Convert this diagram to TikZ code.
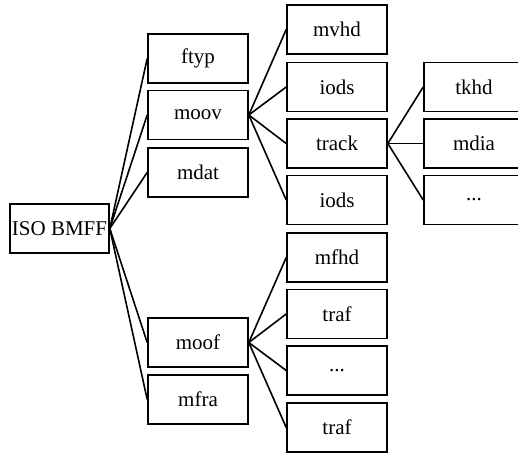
\documentclass[tikz,border=0pt]{standalone}
\usepackage{fontspec}
\setmainfont{Liberation Serif}
\begin{document}
\begin{tikzpicture}[x=1pt,y=-1pt,
  box/.style={draw,line width=1.6pt,minimum width=100pt,minimum height=49pt,inner sep=0pt,anchor=center,font=\fontsize{21}{25}\selectfont},
  link/.style={line width=1.6pt}]
\clip (0,0) rectangle (518,452);
\fill[white] (0,0) rectangle (518,452);
% root
\node[box,minimum width=99pt] (iso) at (59.5,228.5) {ISO BMFF};
% level 1
\node[box] (ftyp) at (198,58.5) {ftyp};
\node[box] (moov) at (198,115) {moov};
\node[box] (mdat) at (198,172.5) {mdat};
\node[box] (moof) at (198,342.5) {moof};
\node[box] (mfra) at (198,399.5) {mfra};
% level 2 (moov)
\node[box] (mvhd) at (337,29.5) {mvhd};
\node[box] (iodsa) at (337,87) {iods};
\node[box] (track) at (337,143.5) {track};
\node[box] (iodsb) at (337,200) {iods};
% level 2 (moof)
\node[box] (mfhd) at (337,257.5) {mfhd};
\node[box] (trafa) at (337,314) {traf};
\node[box] (dotsa) at (337,370.5) {...};
\node[box] (trafb) at (337,427.5) {traf};
% level 3 (track)
\node[box] (tkhd) at (474,87) {tkhd};
\node[box] (mdia) at (474,143.5) {mdia};
\node[box] (dotsb) at (474,200) {...};
% connectors
\foreach \t in {ftyp,moov,mdat,moof,mfra} \draw[link] (iso.east) -- (\t.west);
\foreach \t in {mvhd,iodsa,track,iodsb} \draw[link] (moov.east) -- (\t.west);
\foreach \t in {mfhd,trafa,dotsa,trafb} \draw[link] (moof.east) -- (\t.west);
\foreach \t in {tkhd,mdia,dotsb} \draw[link] (track.east) -- (\t.west);
\end{tikzpicture}
\end{document}
